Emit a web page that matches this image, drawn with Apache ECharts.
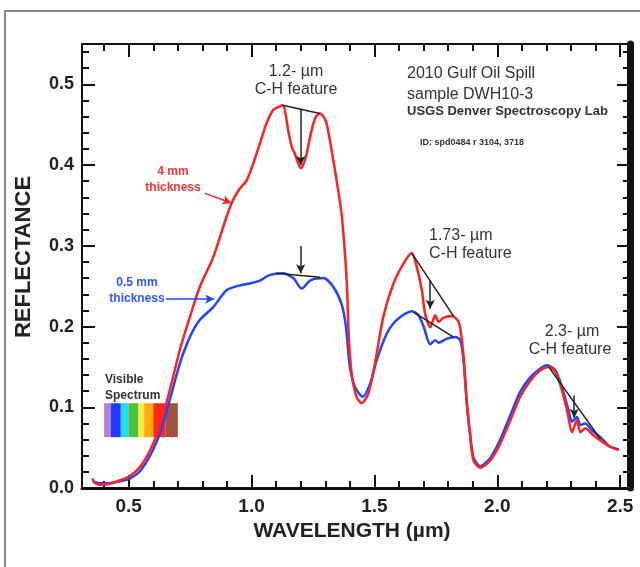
<!DOCTYPE html>
<html><head><meta charset="utf-8">
<script src="https://cdn.jsdelivr.net/npm/echarts@6/dist/echarts.min.js"></script>
<style>html,body{margin:0;padding:0;background:#fff}#c{width:640px;height:567px}</style>
</head><body><div id="c"></div>
<script>
// ---- data ----
const wavelength4mm = [0.352,0.36,0.38,0.42,0.46,0.50,0.54,0.572,0.60,0.626,0.667,0.708,0.749,0.789,0.844,0.898,0.925,0.95,0.98,1.007,1.034,1.061,1.088,1.126,1.149,1.163,1.176,1.19,1.2,1.212,1.224,1.244,1.262,1.278,1.292,1.305,1.326,1.346,1.366,1.38,1.389,1.395,1.407,1.427,1.448,1.475,1.502,1.536,1.577,1.618,1.652,1.672,1.693,1.706,1.727,1.747,1.761,1.781,1.815,1.842,1.856,1.866,1.876,1.89,1.903,1.93,1.971,2.012,2.053,2.093,2.134,2.175,2.209,2.236,2.263,2.284,2.304,2.324,2.338,2.358,2.385,2.419,2.46,2.494];
const reflectance4mm = [0.012,0.007,0.004,0.005,0.009,0.014,0.024,0.038,0.055,0.076,0.121,0.171,0.212,0.249,0.286,0.336,0.357,0.370,0.381,0.402,0.427,0.452,0.468,0.474,0.443,0.423,0.414,0.402,0.396,0.402,0.414,0.443,0.460,0.464,0.460,0.452,0.418,0.381,0.340,0.290,0.245,0.190,0.142,0.113,0.105,0.117,0.154,0.212,0.253,0.278,0.291,0.274,0.245,0.216,0.199,0.214,0.206,0.211,0.213,0.206,0.183,0.150,0.105,0.063,0.034,0.025,0.034,0.055,0.084,0.113,0.133,0.146,0.150,0.144,0.121,0.096,0.069,0.084,0.069,0.074,0.067,0.059,0.051,0.047];
const wavelength05mm = [0.355,0.38,0.42,0.46,0.50,0.54,0.572,0.60,0.626,0.667,0.708,0.749,0.789,0.844,0.898,0.952,1.0,1.034,1.075,1.129,1.17,1.204,1.238,1.292,1.333,1.366,1.384,1.4,1.421,1.452,1.482,1.509,1.55,1.59,1.652,1.679,1.7,1.727,1.747,1.761,1.795,1.829,1.849,1.862,1.876,1.89,1.903,1.93,1.971,2.012,2.053,2.093,2.134,2.175,2.202,2.236,2.263,2.29,2.304,2.324,2.338,2.358,2.385,2.419,2.46,2.494];
const reflectance05mm = [0.008,0.006,0.006,0.008,0.011,0.019,0.032,0.048,0.067,0.109,0.154,0.187,0.208,0.224,0.245,0.251,0.254,0.257,0.264,0.266,0.260,0.247,0.257,0.260,0.249,0.228,0.200,0.150,0.125,0.113,0.129,0.158,0.191,0.208,0.219,0.214,0.200,0.178,0.183,0.180,0.185,0.187,0.183,0.160,0.105,0.065,0.038,0.027,0.037,0.060,0.090,0.119,0.137,0.148,0.152,0.146,0.125,0.096,0.082,0.088,0.078,0.080,0.0715,0.063,0.051,0.048];

const xTickValues = [0.4,0.5,0.6,0.7,0.8,0.9,1.0,1.1,1.2,1.3,1.4,1.5,1.6,1.7,1.8,1.9,2.0,2.1,2.2,2.3,2.4,2.5];
const xLabelValues = [0.5,1.0,1.5,2.0,2.5];
const yLabelValues = [0.0,0.1,0.2,0.3,0.4,0.5];

// continuum lines [start, end] in (µm, reflectance)
const continuumLines = [
  [[1.126,0.474],[1.278,0.464]],
  [[1.102,0.266],[1.278,0.261]],
  [[1.652,0.291],[1.822,0.213]],
  [[1.659,0.218],[1.822,0.187]],
  [[2.209,0.150],[2.419,0.061]]
];
// band-depth arrows [from, to]
const bandArrows = [
  [[1.20,0.470],[1.20,0.400]],
  [[1.20,0.300],[1.20,0.266]],
  [[1.727,0.257],[1.727,0.222]],
  [[2.313,0.115],[2.313,0.087]]
];
const labelArrow4mm = [[0.810,0.365],[0.918,0.353]];
const labelArrow05mm = [[0.651,0.234],[0.848,0.234]];

// visible spectrum swatch (µm band edges and colours)
const spectrumEdges = [0.40,0.427,0.468,0.499,0.540,0.563,0.600,0.649,0.700];
const spectrumColors = ['#b57edc','#1e3cff','#14e0ff','#4cc23a','#fff033','#ffaa10','#ff2a1a','#a0553a'];
const spectrumRange = [0.063,0.105];

// ---- chart ----
const FONT = '"Liberation Sans", Arial, Helvetica, sans-serif';
const pairs = (xs, ys) => xs.map((x, i) => [x, ys[i]]);
const spectrumAreas = spectrumColors.map((c, i) => [
  { xAxis: spectrumEdges[i], yAxis: spectrumRange[0], itemStyle: { color: c, opacity: 1 } },
  { xAxis: spectrumEdges[i + 1], yAxis: spectrumRange[1] }
]);
const seg = (s, style) => [{ coord: s[0], lineStyle: style }, { coord: s[1] }];

const chart = echarts.init(document.getElementById('c'), null, { renderer: 'canvas' });
const xBase = { type: 'value', min: 0.31, max: 2.54, splitLine: { show: false } };
const yBase = { type: 'value', min: 0, max: 0.55, interval: 0.1, splitLine: { show: false } };
chart.setOption({
  animation: false,
  backgroundColor: '#fff',
  grid: { left: 82, top: 44, width: 548, height: 444, containLabel: false },
  xAxis: [
    Object.assign({}, xBase, {
      position: 'bottom',
      name: 'WAVELENGTH (µm)', nameLocation: 'middle', nameGap: 32,
      nameTextStyle: { fontFamily: FONT, fontSize: 21, fontWeight: 'bold', color: '#222', padding: [0, 8, 0, 0] },
      axisLine: { lineStyle: { color: '#111', width: 3 } },
      axisTick: { inside: true, length: 7, customValues: xTickValues, lineStyle: { color: '#111', width: 2 } },
      axisLabel: { customValues: xLabelValues, margin: 9, fontFamily: FONT, fontSize: 19, fontWeight: 'bold', color: '#222',
        formatter: v => v.toFixed(1) }
    }),
    Object.assign({}, xBase, {
      position: 'bottom',
      axisLine: { show: false },
      axisTick: { inside: true, length: 13, customValues: xLabelValues, lineStyle: { color: '#111', width: 2 } },
      axisLabel: { show: false }
    }),
    Object.assign({}, xBase, {
      position: 'top',
      axisLine: { lineStyle: { color: '#111', width: 2 } },
      axisTick: { inside: true, length: 7, customValues: xTickValues, lineStyle: { color: '#111', width: 2 } },
      axisLabel: { show: false }
    }),
    Object.assign({}, xBase, {
      position: 'top',
      axisLine: { show: false },
      axisTick: { inside: true, length: 13, customValues: xLabelValues, lineStyle: { color: '#111', width: 2 } },
      axisLabel: { show: false }
    })
  ],
  yAxis: [
    Object.assign({}, yBase, {
      position: 'left',
      name: 'REFLECTANCE', nameLocation: 'middle', nameGap: 47, nameRotate: 90,
      nameTextStyle: { fontFamily: FONT, fontSize: 22, fontWeight: 'bold', color: '#222', padding: [0, 0, 0, 18] },
      axisLine: { lineStyle: { color: '#111', width: 2 } },
      axisTick: { inside: true, length: 13, lineStyle: { color: '#111', width: 2 } },
      minorTick: { show: true, splitNumber: 5, length: 7, lineStyle: { color: '#111', width: 2 } },
      axisLabel: { customValues: yLabelValues, margin: 8, fontFamily: FONT, fontSize: 18, fontWeight: 'bold', color: '#222', formatter: v => v.toFixed(1) }
    }),
    Object.assign({}, yBase, {
      position: 'right',
      axisLine: { lineStyle: { color: '#111', width: 7 } },
      axisTick: { inside: true, length: 13, lineStyle: { color: '#111', width: 2 } },
      minorTick: { show: true, splitNumber: 5, length: 7, lineStyle: { color: '#111', width: 2 } },
      axisLabel: { show: false }
    })
  ],
  series: [
    {
      name: 'Visible spectrum', type: 'line', data: [], z: 1, silent: true,
      markArea: { silent: true, itemStyle: { opacity: 1 }, data: spectrumAreas }
    },
    {
      name: '0.5 mm thickness', type: 'line', z: 3, data: pairs(wavelength05mm, reflectance05mm),
      showSymbol: false, smooth: 0.25, lineStyle: { color: '#2244ff', width: 2.5 }, itemStyle: { color: '#2244ff' }
    },
    {
      name: '4 mm thickness', type: 'line', z: 4, data: pairs(wavelength4mm, reflectance4mm),
      showSymbol: false, smooth: 0.25, lineStyle: { color: '#ff2222', width: 2.5 }, itemStyle: { color: '#ff2222' }
    },
    {
      name: 'continuum', type: 'line', data: [], z: 5, silent: true,
      markLine: { silent: true, symbol: ['none', 'none'], label: { show: false },
        lineStyle: { color: '#222', width: 1.5, type: 'solid' },
        data: continuumLines.map(s => seg(s, { color: '#222', width: 1.5, type: 'solid' })) }
    },
    {
      name: 'arrows', type: 'line', data: [], z: 6, silent: true,
      markLine: { silent: true, symbol: ['none', 'arrow'], symbolSize: [7, 9], label: { show: false },
        lineStyle: { color: '#222', width: 1.5, type: 'solid' },
        data: bandArrows.map(s => seg(s, { color: '#222', width: 1.5, type: 'solid' })).concat([
          seg(labelArrow4mm, { color: '#ff2222', width: 1.5, type: 'solid' }),
          seg(labelArrow05mm, { color: '#2244ff', width: 1.5, type: 'solid' })
        ]) }
    }
  ],
  graphic: [
    { type: 'rect', silent: true, z: 0, shape: { x: 5, y: 11, width: 700, height: 620 }, style: { fill: 'none', stroke: '#8a8a8a', lineWidth: 2 } },
    { type: 'text', x: 296, y: 72, style: { text: '1.2- µm', font: '16px ' + FONT, fill: '#333', align: 'center', verticalAlign: 'middle' } },
    { type: 'text', x: 296, y: 90, style: { text: 'C-H feature', font: '16px ' + FONT, fill: '#333', align: 'center', verticalAlign: 'middle' } },
    { type: 'text', x: 407, y: 74, style: { text: '2010 Gulf Oil Spill', font: '16px ' + FONT, fill: '#333', align: 'left', verticalAlign: 'middle' } },
    { type: 'text', x: 407, y: 95, style: { text: 'sample DWH10-3', font: '16px ' + FONT, fill: '#333', align: 'left', verticalAlign: 'middle' } },
    { type: 'text', x: 407, y: 111, style: { text: 'USGS Denver Spectroscopy Lab', font: 'bold 13px ' + FONT, fill: '#333', align: 'left', verticalAlign: 'middle' } },
    { type: 'text', x: 420, y: 143, style: { text: 'ID: spd0484 r 3104, 3718', font: 'bold 9px ' + FONT, fill: '#333', align: 'left', verticalAlign: 'middle' } },
    { type: 'text', x: 429, y: 236, style: { text: '1.73- µm', font: '16px ' + FONT, fill: '#333', align: 'left', verticalAlign: 'middle' } },
    { type: 'text', x: 429, y: 254, style: { text: 'C-H feature', font: '16px ' + FONT, fill: '#333', align: 'left', verticalAlign: 'middle' } },
    { type: 'text', x: 572, y: 332, style: { text: '2.3- µm', font: '16px ' + FONT, fill: '#333', align: 'center', verticalAlign: 'middle' } },
    { type: 'text', x: 570, y: 350, style: { text: 'C-H feature', font: '16px ' + FONT, fill: '#333', align: 'center', verticalAlign: 'middle' } },
    { type: 'text', x: 173, y: 172, style: { text: '4 mm', font: 'bold 12px ' + FONT, fill: '#ff3333', align: 'center', verticalAlign: 'middle' } },
    { type: 'text', x: 173, y: 188, style: { text: 'thickness', font: 'bold 12px ' + FONT, fill: '#ff3333', align: 'center', verticalAlign: 'middle' } },
    { type: 'text', x: 137, y: 283, style: { text: '0.5 mm', font: 'bold 12px ' + FONT, fill: '#3355ff', align: 'center', verticalAlign: 'middle' } },
    { type: 'text', x: 137, y: 299, style: { text: 'thickness', font: 'bold 12px ' + FONT, fill: '#3355ff', align: 'center', verticalAlign: 'middle' } },
    { type: 'text', x: 105, y: 380, style: { text: 'Visible', font: 'bold 12px ' + FONT, fill: '#333', align: 'left', verticalAlign: 'middle' } },
    { type: 'text', x: 105, y: 396, style: { text: 'Spectrum', font: 'bold 12px ' + FONT, fill: '#333', align: 'left', verticalAlign: 'middle' } }
  ]
});
</script>
</body></html>
